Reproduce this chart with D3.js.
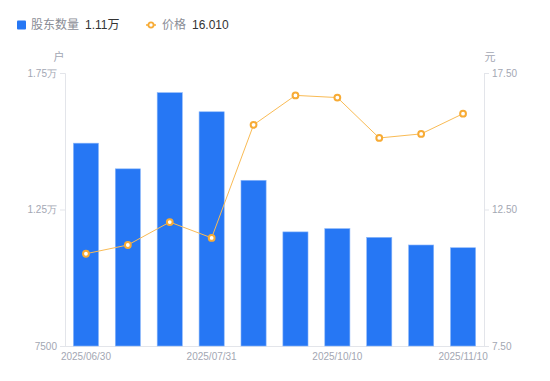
<!DOCTYPE html>
<html>
<head>
<meta charset="utf-8">
<script src="https://cdn.jsdelivr.net/npm/d3@7/dist/d3.min.js"></script>
<style>
html,body{margin:0;padding:0;background:#fff;}
svg{display:block;font-family:"Liberation Sans","Noto Sans CJK SC",sans-serif;}
</style>
</head>
<body>
<svg id="chart" width="550" height="381"></svg>
<script>
const dates = ["2025/06/30","2025/07/10","2025/07/20","2025/07/31","2025/08/29","2025/09/30","2025/10/10","2025/10/20","2025/10/31","2025/11/10"];
const holders = [14930, 13990, 16780, 16080, 13570, 11680, 11800, 11480, 11200, 11100];
const prices = [10.88, 11.20, 12.04, 11.46, 15.60, 16.68, 16.60, 15.12, 15.27, 16.01];
const leftTicks = [7500, 12500, 17500];
const rightTicks = [7.5, 12.5, 17.5];
const xLabelIdx = [0, 3, 6, 9];

const svg = d3.select("#chart");
const m = {l: 65, r: 484, t: 73, b: 346};

const x = d3.scaleBand().domain(dates).range([m.l, m.r]).paddingInner(0.4).paddingOuter(0.2);
const yL = d3.scaleLinear().domain([7500, 17500]).range([m.b, m.t]);
const yR = d3.scaleLinear().domain([7.5, 17.5]).range([m.b, m.t]);

const axisCol = "#e3e5ea";
const labCol = "#a3a7b3";

function fmtL(v){ return v >= 10000 ? (v/10000).toFixed(2) + "万" : String(v); }

// left axis
const gL = svg.append("g").attr("transform", `translate(${m.l},0)`)
  .call(d3.axisLeft(yL).tickValues(leftTicks).tickFormat(fmtL).tickSize(5).tickPadding(3));
// right axis
const gR = svg.append("g").attr("transform", `translate(${m.r},0)`)
  .call(d3.axisRight(yR).tickValues(rightTicks).tickFormat(d3.format(".2f")).tickSize(5).tickPadding(3));
// bottom axis
const gB = svg.append("g").attr("transform", `translate(0,${m.b})`)
  .call(d3.axisBottom(x).tickValues(xLabelIdx.map(i => dates[i])).tickSize(0).tickPadding(7));

[gL, gR, gB].forEach(g => {
  g.select(".domain").attr("stroke", axisCol);
  g.selectAll(".tick line").attr("stroke", axisCol);
  g.selectAll(".tick text").attr("fill", labCol).attr("font-size", 10);
});
gB.select(".domain").attr("d", `M${m.l},0.5H${m.r}`);

// unit labels
svg.append("text").attr("x", 59).attr("y", 61).attr("text-anchor", "middle")
  .attr("fill", labCol).attr("font-size", 11).text("户");
svg.append("text").attr("x", 490).attr("y", 61).attr("text-anchor", "middle")
  .attr("fill", labCol).attr("font-size", 11).text("元");

// bars
svg.append("g").selectAll("rect").data(holders).join("rect")
  .attr("x", (d, i) => x(dates[i]))
  .attr("y", d => yL(d))
  .attr("width", x.bandwidth())
  .attr("height", d => m.b - yL(d))
  .attr("fill", "#2677f4")
  .attr("stroke", "#8db8fa")
  .attr("stroke-width", 0.6);

// line
const line = d3.line().x((d, i) => x(dates[i]) + x.bandwidth()/2).y(d => yR(d));
svg.append("path").datum(prices).attr("d", line)
  .attr("fill", "none").attr("stroke", "#f9bb55").attr("stroke-width", 1);
svg.append("g").selectAll("circle").data(prices).join("circle")
  .attr("cx", (d, i) => x(dates[i]) + x.bandwidth()/2)
  .attr("cy", d => yR(d))
  .attr("r", 2.9)
  .attr("fill", "#fff")
  .attr("stroke", "#f7ab35")
  .attr("stroke-width", 2);

// legend
const lg = svg.append("g");
lg.append("rect").attr("x", 17).attr("y", 20.5).attr("width", 9).attr("height", 9).attr("rx", 1).attr("fill", "#2677f4");
lg.append("text").attr("x", 31).attr("y", 29).attr("font-size", 12).attr("fill", "#8a8d96").text("股东数量");
lg.append("text").attr("x", 85).attr("y", 29).attr("font-size", 12).attr("fill", "#333").text(fmtL(holders[holders.length-1]));
lg.append("line").attr("x1", 146).attr("x2", 156).attr("y1", 25).attr("y2", 25).attr("stroke", "#f7ab35").attr("stroke-width", 1.5);
lg.append("circle").attr("cx", 151).attr("cy", 25).attr("r", 2.6).attr("fill", "#fff").attr("stroke", "#f7ab35").attr("stroke-width", 1.8);
lg.append("text").attr("x", 162).attr("y", 29).attr("font-size", 12).attr("fill", "#8a8d96").text("价格");
lg.append("text").attr("x", 192).attr("y", 29).attr("font-size", 12).attr("fill", "#333").text(prices[prices.length-1].toFixed(3));
</script>
</body>
</html>
